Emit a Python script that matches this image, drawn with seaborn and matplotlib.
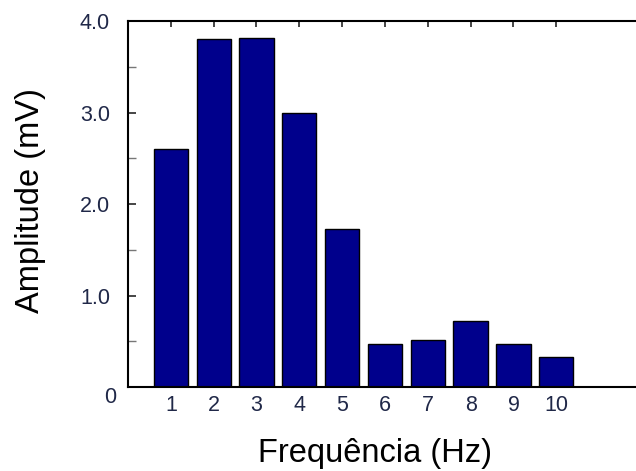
import seaborn as sns
import matplotlib
matplotlib.use("Agg")
import matplotlib.pyplot as plt
import matplotlib.transforms as mtransforms
import pandas as pd

frequencia = [1, 2, 3, 4, 5, 6, 7, 8, 9, 10]
amplitude = [2.60, 3.80, 3.82, 3.00, 1.73, 0.47, 0.51, 0.72, 0.47, 0.33]
yticks = [0, 1, 2, 3, 4]
ytick_labels = ["0", "1.0", "2.0", "3.0", "4.0"]

sns.set_style("ticks")
plt.rcParams['font.family'] = ['Liberation Sans', 'DejaVu Sans']

df = pd.DataFrame({"Frequencia": frequencia, "Amplitude": amplitude})

fig = plt.figure(figsize=(6.36, 4.71), dpi=100)
ax = fig.add_axes([0.2013, 0.1783, 0.808, 0.777])

sns.barplot(data=df, x="Frequencia", y="Amplitude", native_scale=True, ax=ax,
            color="#00008C", saturation=1, edgecolor="black", linewidth=1.0,
            width=0.8)

ax.set_xlim(0, 12)
ax.set_ylim(0, 4)
ax.set_xticks(frequencia)
ax.set_xticklabels([str(f) for f in frequencia])
ax.set_yticks(yticks)
ax.set_yticklabels(ytick_labels)
ax.set_yticks([0.5, 1.5, 2.5, 3.5], minor=True)

tick_col = "#202848"
ax.tick_params(axis='x', direction='in', bottom=False, top=True, labelbottom=True,
               length=4, width=1.2, pad=6, labelsize=15.5, labelcolor=tick_col)
ax.tick_params(axis='y', which='major', direction='in', left=True, right=False,
               length=6, width=1.2, pad=13, labelsize=15.5, labelcolor=tick_col)
ax.tick_params(axis='y', which='minor', direction='in', left=True, right=False,
               length=6, width=1.0, color="#777777")

for side in ["top", "left", "bottom"]:
    ax.spines[side].set_visible(True)
    ax.spines[side].set_linewidth(1.5)
    ax.spines[side].set_color("black")
ax.spines["right"].set_visible(False)

# the "0" label sits a bit lower and more to the right in the original
for lab in ax.get_yticklabels():
    if lab.get_text() == "0":
        off = mtransforms.ScaledTranslation(6 / 100, -8 / 100, fig.dpi_scale_trans)
        lab.set_transform(lab.get_transform() + off)

ax.set_xlabel("Frequência (Hz)", fontsize=23.5, color="black")
ax.set_ylabel("Amplitude (mV)", fontsize=23.5, color="black")
ax.xaxis.set_label_coords((375.5 - 128) / 514, -0.14)
ax.yaxis.set_label_coords(-0.16, 0.51)

fig.savefig("out.png", dpi=100)
